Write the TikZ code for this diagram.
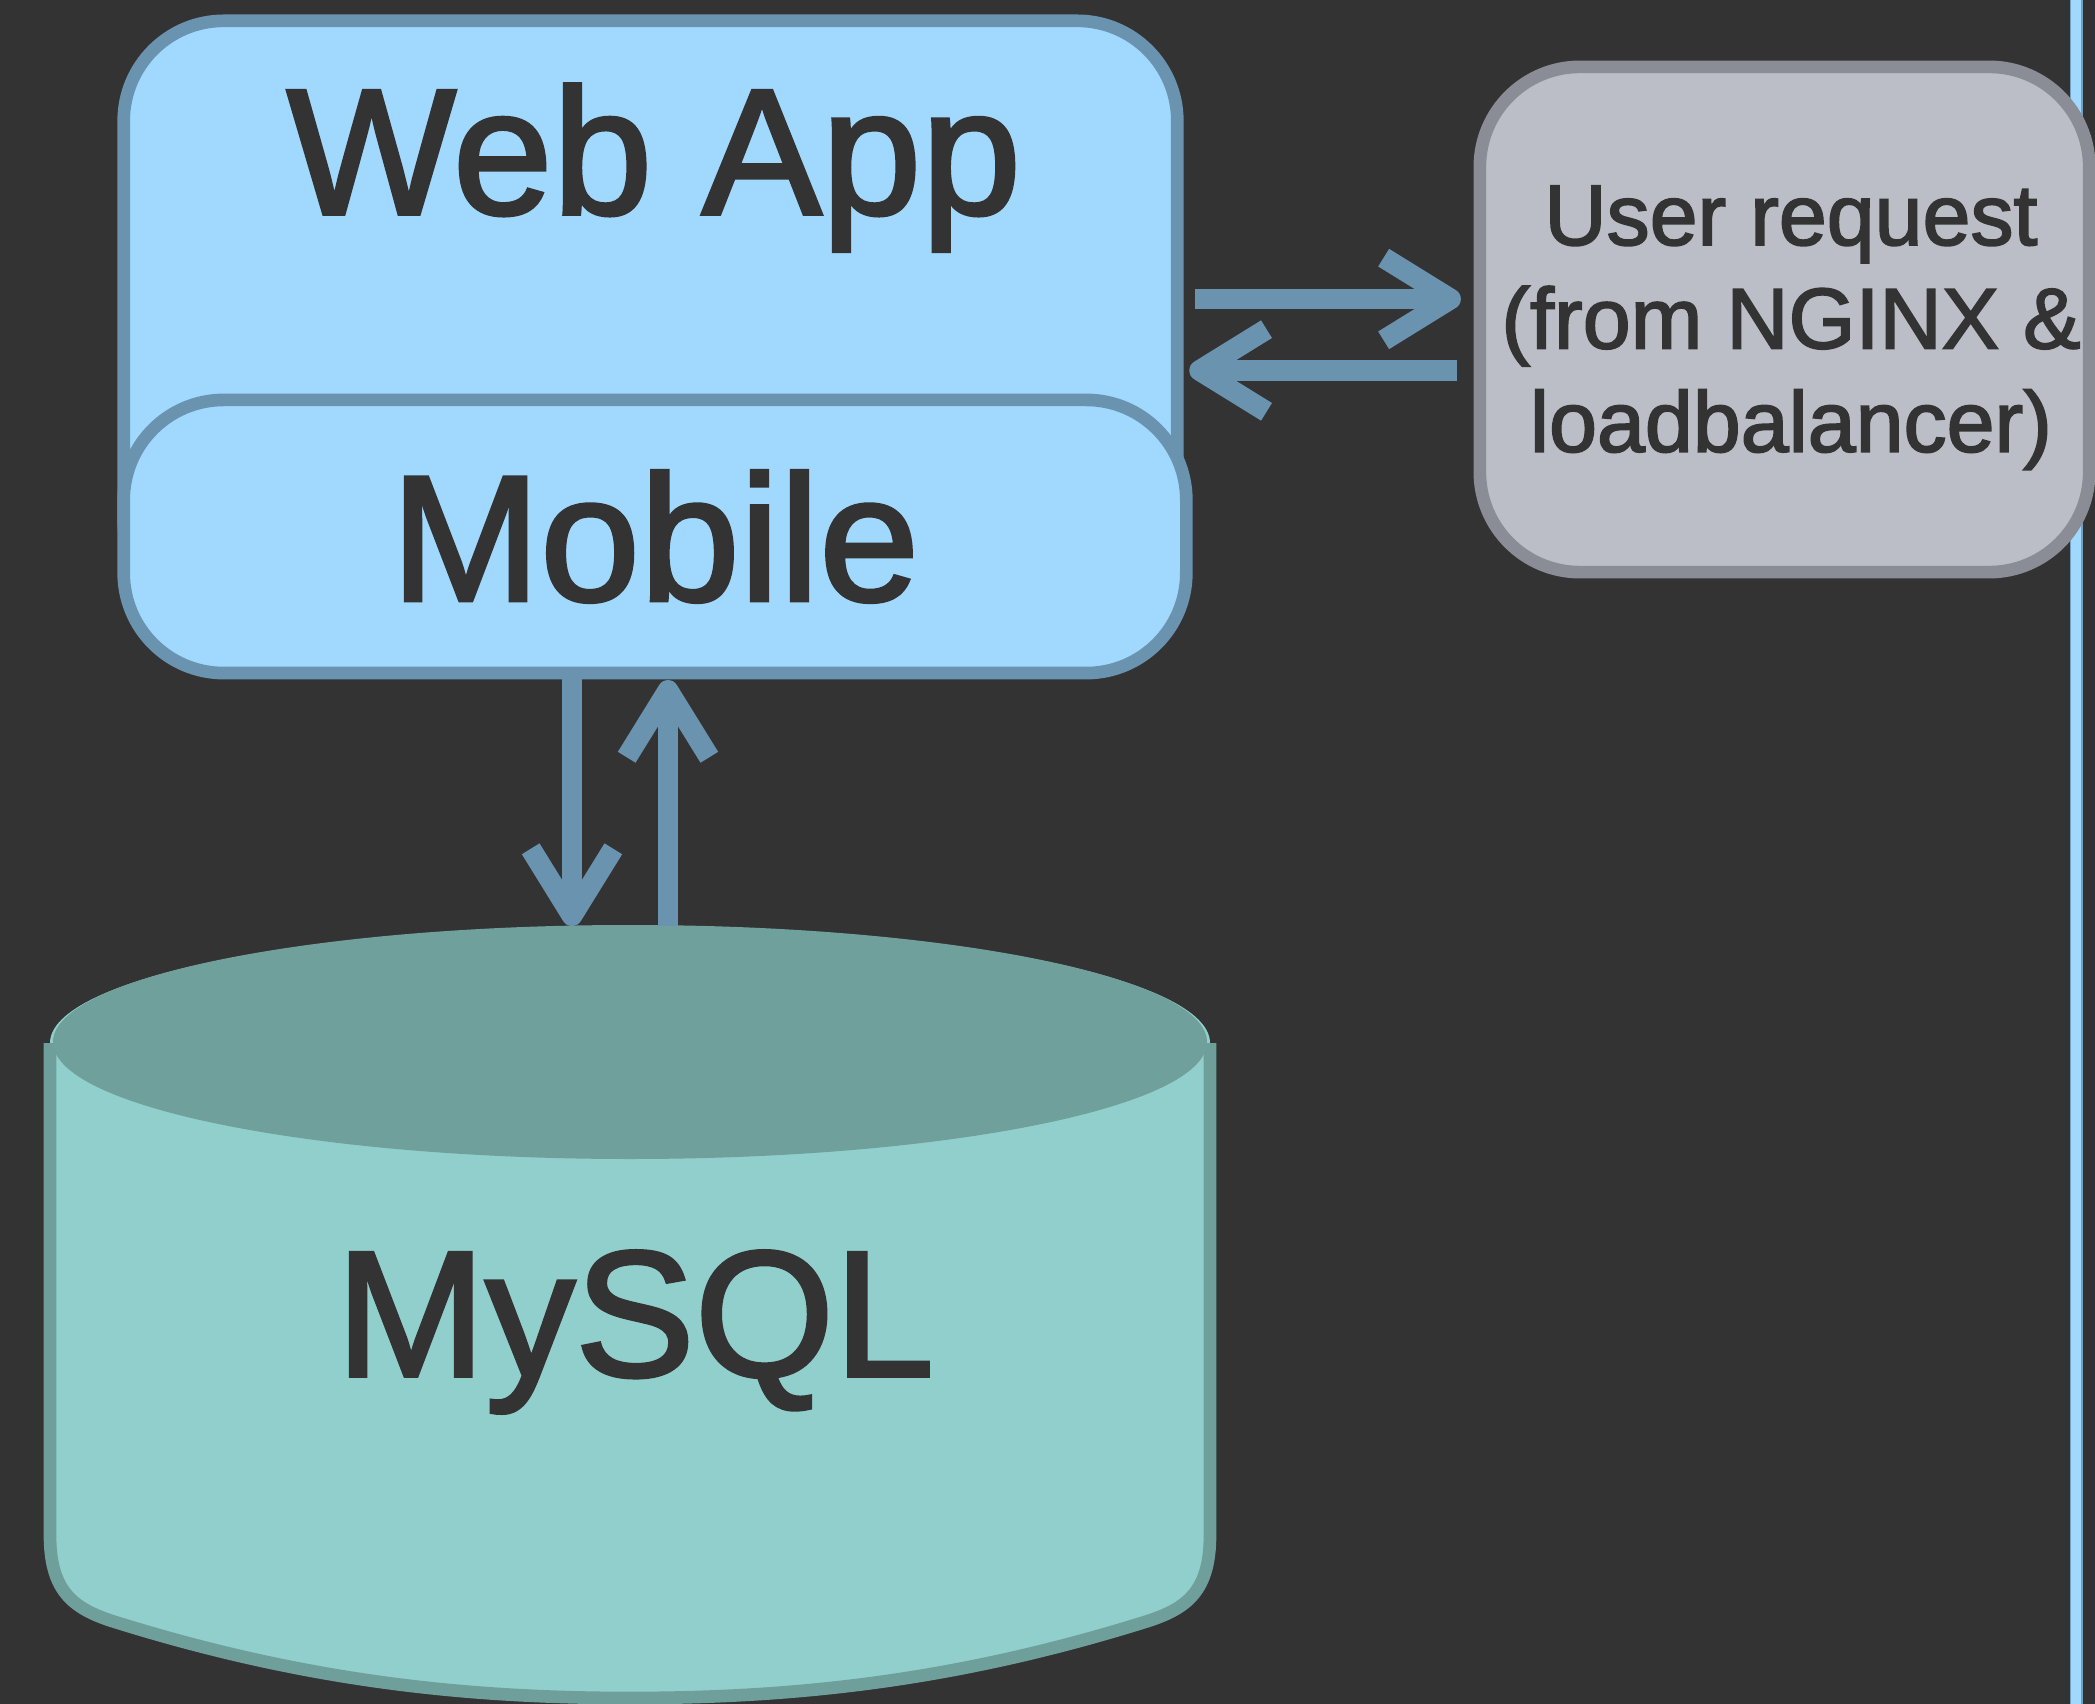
\documentclass[tikz,border=0pt]{standalone}
\usepackage{fontspec}
\setmainfont{Liberation Sans}
\newfontfamily\heavysans[FakeBold=2]{Liberation Sans}
\usetikzlibrary{arrows.meta,calc}
\definecolor{bg}{HTML}{333333}
\definecolor{appfill}{HTML}{A1D8FE}
\definecolor{appline}{HTML}{6A93B0}
\definecolor{userfill}{HTML}{BBBEC6}
\definecolor{userline}{HTML}{8A8D96}
\definecolor{dbtop}{HTML}{6FA09C}
\definecolor{dbfill}{HTML}{91CFCD}
\definecolor{dbline}{HTML}{6E9F9B}
\definecolor{txt}{HTML}{333333}
\begin{document}
\begin{tikzpicture}[x=0.01cm,y=-0.01cm,
  appbox/.style={draw=appline, fill=appfill, line width=3.6pt, rounded corners=1cm, inner sep=0pt, outer sep=0pt},
  userbox/.style={draw=userline, fill=userfill, line width=3.6pt, rounded corners=1cm, inner sep=0pt, outer sep=0pt},
  bigtext/.style={text=txt, font=\heavysans\fontsize{51pt}{60pt}\selectfont, inner sep=0pt},
  smalltext/.style={text=txt, font=\heavysans\fontsize{24.5pt}{29.4pt}\selectfont, align=center, inner sep=0pt},
  conn/.style={draw=appline, line width=5.9pt,
    -{Straight Barb[length=19pt,width=23.5pt,line cap=butt,line join=round]}}]
\fill[bg] (0,0) rectangle (2095,1704);
\useasboundingbox (0,0) rectangle (2095,1704);
% right-hand vertical line
\draw[line width=3.7pt, color=appline!80!appfill] (2076,0) -- (2076,1704);
\draw[line width=3.1pt, color=appfill] (2076,0) -- (2076,1704);
% boxes
\node[appbox, minimum width=10.53cm, minimum height=5.99cm] (webapp) at (650.5,320.5) {};
\node[bigtext, anchor=base] (webapptext) at (654,214) {Web App};
\node[appbox, minimum width=10.62cm, minimum height=2.73cm, font=\heavysans\fontsize{51pt}{60pt}\selectfont, text=txt] (mobile) at (655,536.5) {Mobile};
\node[userbox, minimum width=6.09cm, minimum height=5.05cm] (user) at (1784.5,319.5) {};
\node[smalltext] (usertext) at (1791,327.7) {User request\\(from NGINX \&\\loadbalancer)};
% database cylinder
\fill[dbfill]
  (50,1043) -- (50,1535) .. controls (50,1590) and (72,1608) .. (112,1621)
  .. controls (300,1680) and (460,1698) .. (630,1698)
  .. controls (800,1698) and (960,1680) .. (1148,1621)
  .. controls (1188,1608) and (1210,1590) .. (1210,1535)
  -- (1210,1043) arc[start angle=0, end angle=-180, x radius=580, y radius=117] -- cycle;
\draw[dbline, line width=3.6pt]
  (50,1043) -- (50,1535) .. controls (50,1590) and (72,1608) .. (112,1621)
  .. controls (300,1680) and (460,1698) .. (630,1698)
  .. controls (800,1698) and (960,1680) .. (1148,1621)
  .. controls (1188,1608) and (1210,1590) .. (1210,1535)
  -- (1210,1043);
\fill[dbtop] (630,1042) ellipse[x radius=577, y radius=117];
\node[bigtext, anchor=base] (mysql) at (635,1376) {MySQL};
\coordinate (dbtopc) at (630,926);
% connectors
\coordinate (ra) at (0,299);
\coordinate (rb) at (0,370.5);
\coordinate (da) at (572,0);
\coordinate (ua) at (668,0);
\draw[conn] ($(webapp.east |- ra)+(18,0)$) -- ($(user.west |- ra)+(-19,0)$);
\draw[conn] ($(user.west |- rb)+(-23,0)$) -- ($(webapp.east |- rb)+(12,0)$);
\draw[conn] (mobile.south -| da) -- (da |- dbtopc);
\draw[conn] (ua |- dbtopc) -- ($(mobile.south -| ua)+(0,7)$);
\end{tikzpicture}
\end{document}
